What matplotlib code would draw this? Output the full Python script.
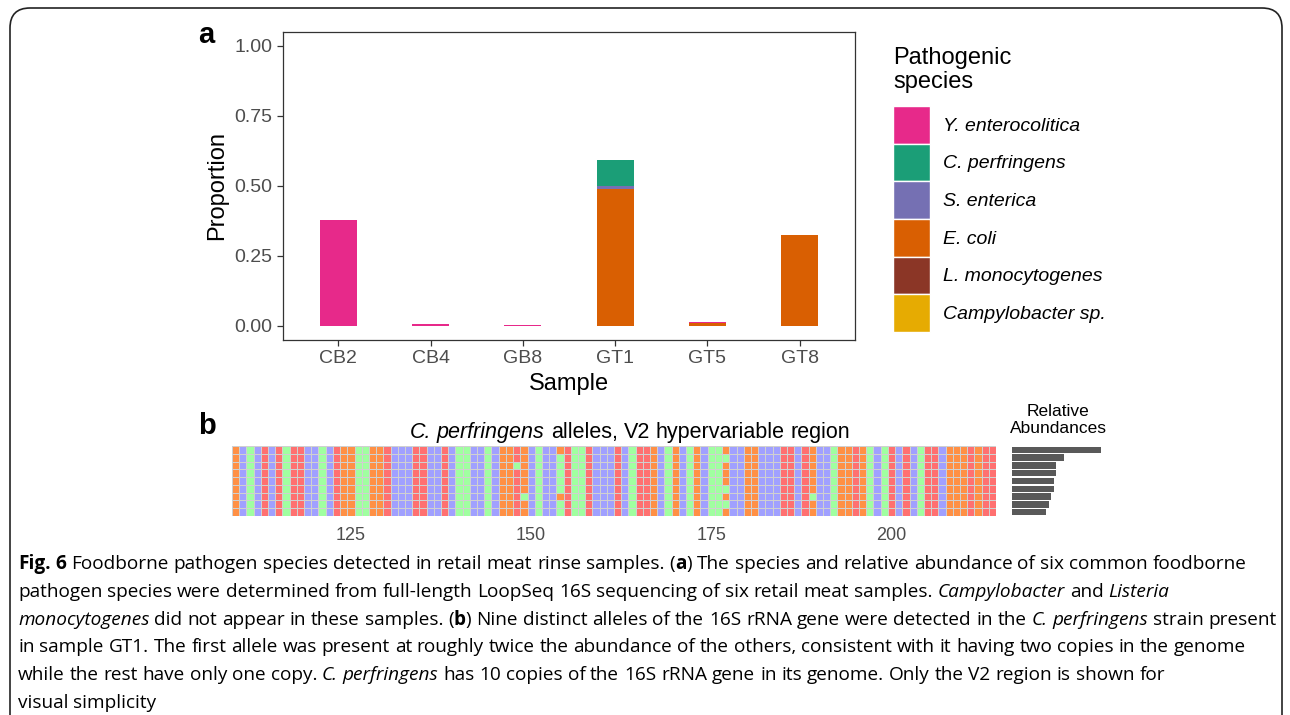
import matplotlib
matplotlib.use('Agg')
import matplotlib.pyplot as plt
import numpy as np
from matplotlib.colors import ListedColormap
from matplotlib.patches import Patch, FancyBboxPatch

# panel a: proportion of each pathogenic species per sample
samples = ['CB2', 'CB4', 'GB8', 'GT1', 'GT5', 'GT8']
species = ['Y. enterocolitica', 'C. perfringens', 'S. enterica', 'E. coli',
           'L. monocytogenes', 'Campylobacter sp.']
species_colors = ['#E7298A', '#1B9E77', '#7570B3', '#D95F02', '#8B3626', '#E6AB02']
y_enterocolitica = [0.379, 0.006, 0.002, 0.0, 0.003, 0.0]
c_perfringens = [0.0, 0.0, 0.0, 0.092, 0.0, 0.0]
s_enterica = [0.0, 0.0, 0.0, 0.012, 0.0, 0.0]
e_coli = [0.0, 0.0, 0.0, 0.488, 0.010, 0.324]
l_monocytogenes = [0.0, 0.0, 0.0, 0.0, 0.0, 0.0]
campylobacter = [0.0, 0.0, 0.0, 0.0, 0.0, 0.0]

# panel b: V2 region of the nine C. perfringens 16S alleles
first_position = 109
consensus = ("GCACTCTATT" "CCACTGGAAG" "GTCCCTTCCT" "CAACCACGGT" "GCACCATAAT"
             "CCCTCATTGC" "AGCAGCAAGC" "CGGCCCTTCT" "GCCAGGTGAC" "ATCTCATTCG"
             "GGTGTT")
# (allele row, column, base) where an allele differs from the consensus
variants = [(2, 39, 'A'), (6, 40, 'A'), (0, 45, 'G'), (6, 45, 'G'),
            (1, 68, 'A'), (5, 68, 'A'), (7, 68, 'A'), (6, 80, 'A')]
n_alleles = 9
relative_abundance = [89, 52, 44, 44, 42, 42, 39, 37, 34]
bases = ['A', 'C', 'G', 'T']
base_colors = ['#A0FFA0', '#A0A0FF', '#FF9045', '#FF7070']
position_ticks = [125, 150, 175, 200]

W, H = 1290, 715
fig = plt.figure(figsize=(12.9, 7.15), dpi=100)
renderer = fig.canvas.get_renderer()
chart_font = 'Liberation Sans'
caption_font = 'Open Sans'
grey_text = '#4D4D4D'


def px_axes(x0, y0, x1, y1):
    return fig.add_axes([x0 / W, 1 - y1 / H, (x1 - x0) / W, (y1 - y0) / H])


def rich_text(x, y, segments, size, family, align='left'):
    # lay out words one after another so bold/italic runs can share a line
    probe = fig.text(0, 0, 'x x', fontsize=size, family=family)
    probe2 = fig.text(0, 0, 'xx', fontsize=size, family=family)
    space = probe.get_window_extent(renderer).width - probe2.get_window_extent(renderer).width
    probe.remove()
    probe2.remove()
    words = []
    for text, style in segments:
        for i, part in enumerate(text.split(' ')):
            words.append((part, style, i > 0))
    artists = []
    cx = 0.0
    for part, style, gap in words:
        if gap:
            cx += space
        if not part:
            continue
        t = fig.text(0, 1 - y / H, part, fontsize=size, family=family, va='baseline',
                     fontweight='bold' if style == 'b' else 'normal',
                     fontstyle='italic' if style == 'i' else 'normal')
        artists.append((t, cx))
        cx += t.get_window_extent(renderer).width
    start = x - cx / 2 if align == 'center' else x
    for t, off in artists:
        t.set_x((start + off) / W)


# outer frame, open at the bottom edge of the page
fig.add_artist(FancyBboxPatch((0.10, -0.40), 12.72, 7.47,
                              boxstyle='round,pad=0,rounding_size=0.2',
                              transform=fig.dpi_scale_trans, facecolor='none',
                              edgecolor='#222222', linewidth=1.2))

# ---- panel a ----
ax = px_axes(283, 32, 855, 340)
x = np.arange(len(samples))
stack = [(campylobacter, 5), (l_monocytogenes, 4), (e_coli, 3),
         (s_enterica, 2), (c_perfringens, 1), (y_enterocolitica, 0)]
bottom = np.zeros(len(samples))
for values, k in stack:
    ax.bar(x, values, 0.4, bottom=bottom, color=species_colors[k], linewidth=0)
    bottom += np.array(values)
ax.set_xlim(-0.6, len(samples) - 0.4)
ax.set_ylim(-0.05, 1.05)
ax.set_xticks(x)
ax.set_xticklabels(samples)
ax.set_yticks([0, 0.25, 0.5, 0.75, 1.0])
ax.set_yticklabels(['0.00', '0.25', '0.50', '0.75', '1.00'])
for sp in ax.spines.values():
    sp.set_color('#333333')
    sp.set_linewidth(0.9)
ax.tick_params(color='#333333', length=4, width=0.9, labelsize=14, labelcolor=grey_text)
for lab in ax.get_xticklabels() + ax.get_yticklabels():
    lab.set_family(chart_font)
ax.set_xlabel('Sample', fontsize=17, family=chart_font, labelpad=4)
ax.set_ylabel('Proportion', fontsize=17, family=chart_font, labelpad=5)

fig.text(893 / W, 1 - 47 / H, 'Pathogenic\nspecies', fontsize=17, family=chart_font,
         va='top', ha='left', linespacing=1.12)
handles = [Patch(facecolor=c, edgecolor='white', linewidth=1.0) for c in species_colors]
leg = fig.legend(handles, species, loc='upper left', bbox_to_anchor=(893 / W, 1 - 106 / H),
                 frameon=False, prop={'family': chart_font, 'style': 'italic', 'size': 14},
                 handlelength=1.9, handleheight=2.6, labelspacing=0.0, handletextpad=0.65,
                 borderpad=0, borderaxespad=0)

fig.text(198 / W, 1 - 43 / H, 'a', fontsize=21, fontweight='bold', family=chart_font, va='baseline')
fig.text(198 / W, 1 - 434 / H, 'b', fontsize=21, fontweight='bold', family=chart_font, va='baseline')

# ---- panel b: allele heatmap ----
grid = np.array([[bases.index(b) for b in consensus] for _ in range(n_alleles)])
for row, col, base in variants:
    grid[row, col] = bases.index(base)
n_pos = len(consensus)
hx = px_axes(232, 446, 996, 516)
xe = np.arange(n_pos + 1) + first_position - 0.5
ye = np.arange(n_alleles + 1)
hx.pcolormesh(xe, ye, grid, cmap=ListedColormap(base_colors), vmin=-0.5, vmax=3.5,
              edgecolors='#D0D0D0', linewidth=0.5)
hx.set_ylim(n_alleles, 0)
hx.set_xlim(xe[0], xe[-1])
hx.set_yticks([])
hx.set_xticks(position_ticks)
hx.tick_params(length=0, labelsize=13, labelcolor=grey_text, pad=8)
for lab in hx.get_xticklabels():
    lab.set_family(chart_font)
for sp in hx.spines.values():
    sp.set_visible(False)
rich_text(630, 438, [('C. perfringens', 'i'), (' alleles, V2 hypervariable region', 'n')],
          15.5, chart_font, align='center')

# relative abundance of each allele
bx = px_axes(1012, 446, 1110, 516)
bx.barh(np.arange(n_alleles) + 0.5, relative_abundance, 0.82, color='#595959')
bx.set_ylim(n_alleles, 0)
bx.set_xlim(0, relative_abundance[0] * 98 / 89)
bx.axis('off')
fig.text(1058 / W, 1 - 404 / H, 'Relative\nAbundances', fontsize=12.5, family=chart_font,
         ha='center', va='top', linespacing=1.15)

# ---- caption ----
caption = [
    [('Fig. 6', 'b'), (' Foodborne pathogen species detected in retail meat rinse samples. (', 'n'), ('a', 'b'),
     (') The species and relative abundance of six common foodborne', 'n')],
    [('pathogen species were determined from full-length LoopSeq 16S sequencing of six retail meat samples. ', 'n'),
     ('Campylobacter', 'i'), (' and ', 'n'), ('Listeria', 'i')],
    [('monocytogenes', 'i'), (' did not appear in these samples. (', 'n'), ('b', 'b'),
     (') Nine distinct alleles of the 16S rRNA gene were detected in the ', 'n'), ('C. perfringens', 'i'),
     (' strain present', 'n')],
    [('in sample GT1. The first allele was present at roughly twice the abundance of the others, consistent with it having two copies in the genome', 'n')],
    [('while the rest have only one copy. ', 'n'), ('C. perfringens', 'i'),
     (' has 10 copies of the 16S rRNA gene in its genome. Only the V2 region is shown for', 'n')],
    [('visual simplicity', 'n')],
]
for i, line in enumerate(caption):
    rich_text(18, 569 + i * 27.8, line, 13.7, caption_font)

fig.savefig('out.png', dpi=100)
